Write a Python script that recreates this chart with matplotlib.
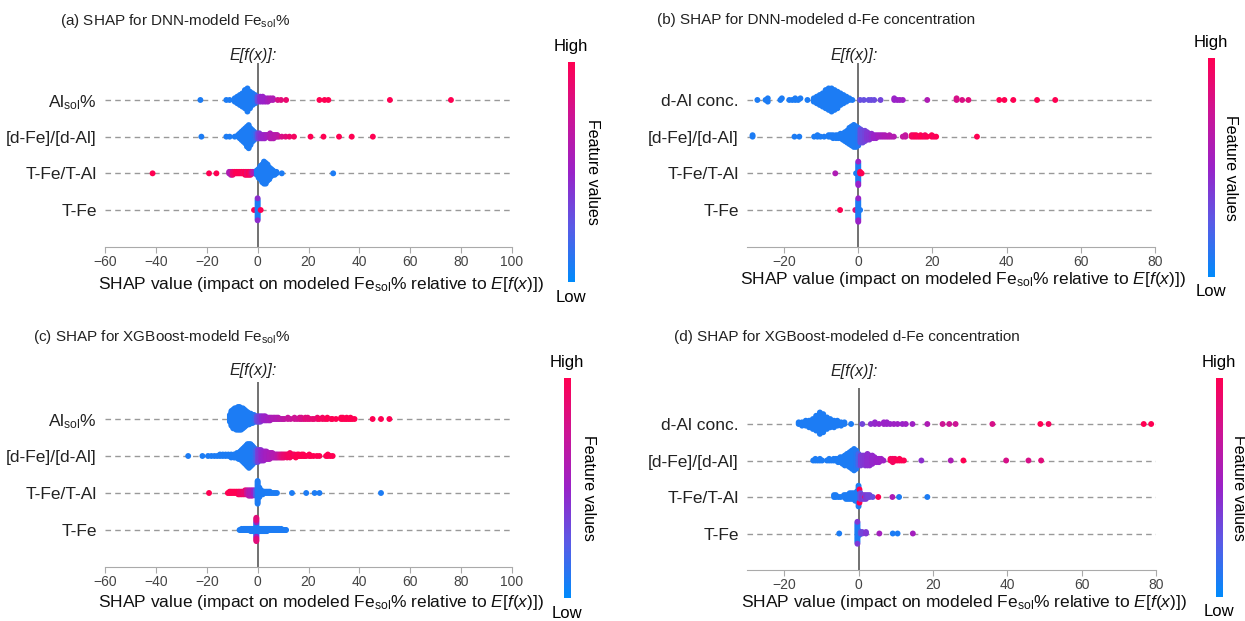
import numpy as np
import matplotlib
matplotlib.use("Agg")
import matplotlib.pyplot as plt
from matplotlib.colors import LinearSegmentedColormap
from matplotlib.colorbar import ColorbarBase

plt.rcParams['font.family'] = ['Liberation Sans', 'DejaVu Sans']
plt.rcParams['mathtext.fontset'] = 'custom'
plt.rcParams['mathtext.rm'] = 'Liberation Sans'
plt.rcParams['mathtext.it'] = 'Liberation Sans:italic'
plt.rcParams['mathtext.bf'] = 'Liberation Sans:bold'
plt.rcParams['mathtext.default'] = 'regular'

# ---- data ----
# every row: list of (shap value, number of samples at that value, feature value 0..1)
feat_fe = ["Al$_{sol}$%", "[d-Fe]/[d-Al]", "T-Fe/T-Al", "T-Fe"]
feat_dfe = ["d-Al conc.", "[d-Fe]/[d-Al]", "T-Fe/T-Al", "T-Fe"]

titles = ["(a) SHAP for DNN-modeld Fe$_{sol}$%",
          "(b) SHAP for DNN-modeled d-Fe concentration",
          "(c) SHAP for XGBoost-modeld Fe$_{sol}$%",
          "(d) SHAP for XGBoost-modeled d-Fe concentration"]

xlab = "SHAP value (impact on modeled Fe$_{sol}$% relative to $\\mathit{E[f(x)]}$)"

# (a) DNN, Fe_sol%
a_al = [(-22.5, 1, .08), (-12.3, 1, .08), (-11.0, 1, .08),
        (-9.0, 3, .08), (-8.0, 5, .08), (-7.0, 7, .08), (-6.0, 9, .08), (-5.0, 12, .08),
        (-4.0, 15, .08), (-3.0, 11, .08), (-2.0, 8, .08), (-1.0, 6, .1),
        (0.0, 4, .3), (1.0, 4, .45), (2.0, 4, .5), (3.0, 3, .5), (4.0, 3, .55), (5.0, 2, .6),
        (6.0, 2, .6), (7.9, 1, .8), (9.2, 1, .85), (11.2, 1, .9),
        (24.3, 1, 1.), (26.3, 1, 1.), (27.8, 1, 1.), (52.0, 1, 1.), (76.0, 1, 1.)]
a_dfe = [(-22.1, 1, .08), (-12.3, 1, .08), (-11.0, 1, .08), (-9.0, 1, .08),
         (-7.7, 2, .08), (-7.0, 4, .08), (-6.3, 6, .08), (-5.6, 8, .08), (-4.9, 10, .08),
         (-4.2, 13, .08), (-3.5, 15, .08), (-2.8, 11, .08), (-2.1, 8, .08), (-1.4, 6, .1),
         (-0.7, 4, .15), (0.0, 4, .3), (0.7, 4, .4), (1.4, 3, .45), (2.1, 3, .5), (2.8, 3, .5),
         (3.5, 2, .55), (4.2, 2, .55), (4.9, 4, .6), (5.6, 3, .62), (6.3, 3, .62), (7.0, 2, .65),
         (7.7, 2, .65), (8.4, 1, .7), (9.5, 1, .8), (11.0, 1, .85), (12.5, 1, .9), (14.3, 1, .95),
         (20.8, 1, 1.), (25.9, 1, 1.), (32.0, 1, 1.), (37.0, 1, 1.), (45.3, 1, 1.)]
a_tft = [(-41.3, 1, 1.), (-19.1, 1, 1.), (-16.2, 1, 1.),
         (-11.2, 2, .6), (-10.5, 3, .6), (-9.8, 3, .9), (-9.1, 2, .95), (-8.4, 2, 1.),
         (-7.7, 2, 1.), (-7.0, 2, 1.), (-6.3, 2, 1.), (-5.6, 2, .95), (-4.9, 3, 1.),
         (-4.2, 3, .9), (-3.5, 3, 1.), (-2.8, 3, .9), (-2.1, 2, .7), (-1.4, 2, .6), (-0.7, 2, .5),
         (-0.3, 4, .08), (0.4, 7, .08), (1.1, 10, .08), (1.8, 13, .08), (2.5, 16, .08),
         (3.2, 15, .08), (3.9, 12, .08), (4.6, 9, .08), (5.3, 6, .08), (6.0, 4, .08),
         (6.7, 3, .08), (7.4, 2, .08), (9.5, 1, .08), (29.7, 1, .08)]
a_tfe = [(-1.4, 1, 1.), (0.0, 14, .08), (0.0, 2, .45), (1.2, 1, 1.)]

# (b) DNN, d-Fe concentration
b_dal = [(-27.2, 1, .08), (-25.0, 1, .08), (-24.4, 2, .08), (-21.0, 1, .08), (-20.6, 1, .08),
         (-18.6, 1, .08), (-17.8, 1, .08), (-17.0, 2, .08), (-16.2, 1, .08), (-15.6, 1, .08),
         (-13.7, 1, .08), (-12.0, 3, .08), (-11.2, 5, .08), (-10.4, 7, .08), (-9.6, 9, .08),
         (-8.8, 12, .08), (-8.0, 14, .08), (-7.2, 15, .08), (-6.4, 13, .08), (-5.6, 11, .08),
         (-4.8, 8, .08), (-4.0, 6, .08), (-3.2, 4, .08), (-2.4, 2, .08), (-1.6, 1, .08),
         (0.5, 1, .3), (1.5, 1, .3), (2.8, 1, .3), (3.5, 1, .32), (4.3, 1, .32), (6.0, 1, .35),
         (9.7, 2, .5), (10.5, 1, .5), (11.2, 1, .52), (12.0, 1, .52), (18.6, 1, .6),
         (26.5, 2, .8), (28.0, 1, .82), (29.7, 1, .85),
         (38.0, 1, 1.), (39.4, 1, 1.), (41.8, 1, 1.), (48.2, 1, 1.), (53.1, 1, 1.)]
b_dfe = [(-28.5, 2, .08), (-17.2, 1, .08), (-15.9, 1, .08), (-11.9, 1, .08), (-11.0, 2, .08),
         (-10.2, 1, .08), (-9.2, 1, .08), (-8.0, 2, .08), (-7.4, 2, .08), (-6.8, 3, .08),
         (-6.0, 3, .08), (-5.4, 3, .08), (-4.8, 4, .08), (-4.2, 5, .08), (-3.6, 7, .08),
         (-3.0, 9, .08), (-2.4, 12, .08), (-1.8, 14, .08), (-1.2, 16, .08), (-0.6, 15, .08),
         (0.0, 13, .1), (0.6, 10, .3), (1.2, 9, .32), (1.8, 8, .35), (2.4, 6, .4), (3.0, 5, .42),
         (3.6, 4, .45), (4.2, 3, .5), (4.8, 3, .5), (5.4, 2, .55), (6.0, 2, .55), (6.6, 2, .58),
         (7.2, 2, .6), (7.8, 1, .6), (8.4, 2, .62), (9.0, 1, .62), (9.6, 1, .62),
         (12.0, 1, .7), (12.7, 2, .7), (14.4, 2, .95), (15.0, 2, .95), (15.6, 2, 1.),
         (16.2, 1, .95), (16.8, 2, 1.), (17.4, 1, 1.), (18.0, 2, .95), (18.6, 1, 1.),
         (19.8, 2, 1.), (20.4, 1, .95), (21.0, 1, 1.), (32.0, 1, 1.)]
b_tft = [(-6.2, 1, .6), (-0.6, 1, .08), (0.0, 14, .08), (0.0, 3, .5), (0.5, 2, 1.), (0.9, 1, 1.)]
b_tfe = [(-4.9, 1, 1.), (-0.8, 1, .85), (0.0, 14, .08), (0.0, 3, .5), (0.5, 1, .08)]

# (c) XGBoost, Fe_sol%
c_al = [(-10.9, 6, .08), (-10.3, 12, .08), (-9.6, 15, .08), (-9.0, 16, .08), (-8.4, 17, .08),
        (-7.7, 18, .08), (-7.1, 18, .08), (-6.5, 17, .08), (-5.8, 16, .08), (-5.2, 14, .08),
        (-4.6, 12, .08), (-3.9, 10, .08), (-3.3, 9, .08), (-2.7, 8, .08), (-2.0, 7, .08),
        (-1.4, 6, .1), (-0.8, 5, .15), (-0.2, 5, .3), (0.5, 5, .35), (1.1, 5, .4), (1.7, 4, .45),
        (2.4, 4, .5), (3.0, 4, .5), (3.6, 3, .52), (4.3, 3, .55), (4.9, 3, .55), (5.5, 2, .58),
        (6.2, 2, .6), (6.8, 2, .6), (7.5, 2, .62), (8.1, 2, .62), (8.7, 1, .65), (9.4, 1, .65),
        (10.0, 1, .65), (10.6, 1, .68), (11.9, 2, .72), (13.0, 1, .72), (14.5, 2, .75),
        (15.5, 1, .75), (16.5, 2, .78), (17.2, 2, .8), (18.0, 1, .8), (18.8, 2, .85),
        (19.7, 2, .85), (20.5, 1, .85), (21.5, 1, .88), (22.2, 1, .88), (23.5, 2, .9),
        (24.3, 1, .95), (25.5, 2, .95), (26.5, 1, .95), (27.4, 2, 1.), (28.9, 1, .95),
        (29.4, 1, 1.), (30.8, 1, 1.), (32.8, 2, 1.), (33.5, 2, 1.), (34.3, 1, 1.), (35.0, 2, 1.),
        (35.8, 1, 1.), (36.5, 2, 1.), (37.2, 1, 1.), (38.1, 1, 1.),
        (45.2, 1, 1.), (48.5, 1, 1.), (51.8, 1, 1.)]
c_dfe = [(-27.3, 1, .08), (-21.7, 1, .08), (-19.5, 1, .08), (-18.2, 1, .08), (-17.0, 1, .08),
         (-15.9, 1, .08), (-14.8, 2, .08), (-13.7, 2, .08), (-12.6, 2, .08), (-11.5, 2, .08),
         (-10.4, 3, .08), (-9.3, 3, .08), (-8.7, 3, .08), (-8.1, 4, .08), (-7.5, 5, .08),
         (-6.9, 6, .08), (-6.3, 8, .08), (-5.7, 10, .08), (-5.1, 12, .08), (-4.5, 14, .08),
         (-4.0, 16, .08), (-3.4, 17, .08), (-2.8, 16, .08), (-2.2, 14, .08), (-1.7, 12, .1),
         (-1.1, 10, .12), (-0.5, 9, .2), (0.1, 9, .35), (0.7, 8, .4), (1.3, 8, .45), (1.8, 7, .48),
         (2.4, 7, .5), (3.0, 6, .52), (3.5, 6, .55), (4.1, 5, .55), (4.7, 5, .58), (5.3, 4, .58),
         (5.8, 4, .6), (6.4, 3, .62), (7.0, 3, .62), (7.5, 3, .65), (8.1, 3, .68),
         (8.7, 3, .75), (9.3, 3, .8), (9.8, 3, .85), (10.4, 3, .88), (11.0, 2, .9), (11.6, 3, .92),
         (12.2, 2, .95), (12.7, 2, .95), (13.3, 2, .95), (13.9, 2, 1.), (14.5, 2, .95),
         (15.0, 1, 1.), (15.6, 2, 1.), (16.2, 2, 1.), (16.8, 1, 1.), (17.3, 2, 1.), (18.0, 2, 1.),
         (18.5, 1, 1.), (19.1, 1, 1.), (20.3, 2, 1.), (21.0, 1, 1.), (22.0, 1, 1.), (23.3, 1, 1.),
         (24.3, 1, 1.), (26.9, 1, 1.), (27.6, 2, 1.), (28.6, 1, 1.), (29.5, 1, 1.)]
c_tft = [(-19.1, 1, 1.), (-11.7, 1, 1.), (-11.0, 2, 1.), (-10.4, 2, 1.), (-9.7, 2, 1.),
         (-9.0, 2, 1.), (-8.3, 2, 1.), (-7.6, 3, 1.), (-7.0, 3, .95), (-6.3, 3, .95),
         (-5.6, 3, .9), (-4.9, 4, .9), (-4.2, 4, .75), (-3.5, 5, .65), (-2.8, 5, .6),
         (-2.1, 5, .6), (-1.4, 4, .5), (-0.7, 5, .3), (0.0, 18, .08), (0.7, 8, .08),
         (1.4, 4, .08), (2.0, 3, .08), (2.7, 2, .08), (3.4, 2, .08), (4.1, 2, .08), (4.8, 2, .08),
         (5.5, 1, .08), (6.2, 1, .08), (6.9, 1, .08), (7.6, 1, .08),
         (13.5, 1, .08), (19.1, 1, .08), (22.4, 1, .08), (24.3, 1, .08), (48.5, 1, .08)]
c_tfe = [(-7.1, 1, .08), (-6.7, 1, .08), (-6.3, 2, .08), (-5.9, 1, .08), (-5.5, 2, .08),
         (-5.1, 2, .08), (-4.7, 2, .08), (-4.3, 2, .08), (-3.9, 2, .08), (-3.5, 2, .08),
         (-3.1, 2, .08), (-2.7, 3, .08), (-2.3, 3, .08), (-1.9, 3, .08), (-1.5, 3, .08),
         (-1.1, 3, .08), (-0.5, 12, .08), (-0.5, 4, .55), (-0.5, 6, .85),
         (0.1, 3, .08), (0.5, 3, .08), (0.9, 3, .08), (1.3, 3, .08), (1.7, 3, .08), (2.1, 3, .08),
         (2.5, 3, .08), (2.9, 3, .08), (3.3, 3, .08), (3.7, 3, .08), (4.1, 2, .08), (4.5, 2, .08),
         (4.9, 2, .08), (5.3, 2, .08), (5.7, 2, .08), (6.1, 2, .08), (6.5, 2, .08), (6.9, 2, .08),
         (7.3, 2, .08), (7.7, 2, .08), (8.1, 2, .08), (8.5, 2, .08), (8.9, 1, .08), (9.3, 2, .08),
         (9.7, 1, .08), (10.1, 1, .08), (10.5, 1, .08), (10.9, 1, .08), (11.2, 1, .08)]

# (d) XGBoost, d-Fe concentration
d_dal = [(-16.1, 2, .08), (-15.2, 3, .08), (-14.2, 4, .08), (-13.3, 5, .08), (-12.3, 7, .08),
         (-11.4, 10, .08), (-10.4, 14, .08), (-9.5, 12, .08), (-8.5, 8, .08), (-7.6, 6, .08),
         (-6.6, 5, .08), (-5.7, 4, .08), (-4.7, 3, .08), (-3.8, 2, .08), (-2.0, 1, .08),
         (1.0, 1, .35), (3.3, 1, .45), (4.4, 2, .48), (5.5, 1, .5), (6.8, 2, .5), (7.6, 2, .5),
         (8.5, 1, .5), (9.5, 1, .52), (10.5, 1, .52), (11.8, 1, .5), (12.7, 1, .52),
         (14.5, 1, .52), (18.5, 1, .6), (22.6, 1, .75), (24.4, 1, .75), (26.1, 1, .75),
         (36.0, 1, .8), (48.9, 1, 1.), (51.1, 1, .95), (76.7, 1, 1.), (78.7, 1, 1.)]
d_dfe = [(-12.2, 1, .08), (-11.6, 2, .08), (-11.0, 1, .08), (-10.4, 2, .08), (-9.8, 1, .08),
         (-8.5, 1, .08), (-7.9, 2, .08), (-7.3, 1, .08), (-6.7, 2, .08), (-6.1, 2, .08),
         (-5.5, 3, .08), (-4.9, 4, .08), (-4.3, 5, .08), (-3.7, 7, .08), (-3.1, 8, .08),
         (-2.4, 10, .08), (-1.8, 12, .08), (-1.2, 14, .08), (-0.6, 12, .1), (0.0, 8, .2),
         (0.6, 7, .38), (1.2, 6, .4), (1.8, 7, .42), (2.4, 8, .45), (3.0, 7, .45), (3.7, 6, .48),
         (4.3, 4, .48), (4.9, 3, .5), (5.5, 3, .5), (6.1, 2, .52), (6.7, 1, .52),
         (8.6, 2, .95), (9.2, 3, .95), (9.8, 2, .95), (10.4, 1, 1.), (11.0, 2, 1.),
         (11.6, 1, 1.), (12.2, 1, 1.), (16.9, 1, .45), (24.8, 1, .6), (28.2, 1, 1.),
         (39.7, 1, .8), (45.7, 1, .8), (49.1, 1, .85)]
d_tft = [(-6.6, 2, .08), (-6.1, 2, .08), (-5.4, 1, .08), (-4.8, 1, .08), (-3.9, 2, .08),
         (-3.4, 3, .08), (-2.9, 3, .08), (-2.4, 4, .08), (-1.9, 4, .08), (-1.4, 4, .08),
         (-0.9, 5, .08), (-0.4, 6, .08), (0.0, 12, .08), (0.25, 6, .08), (0.25, 2, 1.),
         (0.5, 4, .3), (1.0, 3, .4), (1.5, 3, .35), (1.8, 1, 1.), (2.0, 3, .4), (2.5, 2, .35),
         (3.0, 2, .35), (3.8, 1, .3), (5.3, 1, 1.), (9.1, 1, .6), (10.9, 1, .08), (18.5, 1, .08)]
d_tfe = [(-5.2, 1, .08), (-0.3, 14, .08), (-0.3, 2, .4), (-0.1, 4, .08), (0.2, 3, .08),
         (0.6, 2, .3), (1.0, 2, .35), (2.0, 2, .4), (5.6, 1, .55), (9.2, 1, .08), (10.5, 1, .08),
         (14.6, 1, .55)]

panels = [
    dict(rows=[a_al, a_dfe, a_tft, a_tfe], names=feat_fe, xlim=(-60, 100), xticks=range(-60, 101, 20)),
    dict(rows=[b_dal, b_dfe, b_tft, b_tfe], names=feat_dfe, xlim=(-30, 80), xticks=range(-20, 81, 20)),
    dict(rows=[c_al, c_dfe, c_tft, c_tfe], names=feat_fe, xlim=(-60, 100), xticks=range(-60, 101, 20)),
    dict(rows=[d_dal, d_dfe, d_tft, d_tfe], names=feat_dfe, xlim=(-30, 80), xticks=range(-20, 81, 20)),
]

# layout in pixels of the 1245x621 canvas
W, H = 1245, 621
ax_px = [(105, 63.3, 512, 246.7), (747, 63.3, 1155, 246.7),
         (105, 382, 512, 567), (747, 387.5, 1156, 570)]
cb_px = [(571, 62, 282, 592), (1211, 58, 277, 1230),
         (567, 378, 598, 588), (1219, 378, 597, 1238)]
title_px = [(60, 21), (657, 20), (33, 337), (674, 337)]
xlab_dy = [38, 33, 35, 32]
efx_dy = [8, 8, 12, 16]

cmap = LinearSegmentedColormap.from_list(
    "shap_rb", ["#008bfb", "#5a5ae6", "#9a22c8", "#cc1495", "#ff0052"])


def swarm_offsets(vals, row_height=0.4, nbins=100):
    # same layering scheme as shap's beeswarm
    vals = np.asarray(vals, float)
    quant = np.round(nbins * (vals - vals.min()) / (vals.max() - vals.min() + 1e-8))
    inds = np.argsort(quant, kind="stable")
    ys = np.zeros(len(vals))
    layer, last = 0, None
    for i in inds:
        if quant[i] != last:
            layer = 0
        ys[i] = np.ceil(layer / 2) * ((layer % 2) * 2 - 1)
        layer += 1
        last = quant[i]
    ys *= 0.9 * (row_height / np.max(ys + 1))
    return ys


fig = plt.figure(figsize=(W / 100, H / 100), dpi=100)

for k, p in enumerate(panels):
    x0, y0, x1, y1 = ax_px[k]
    ax = fig.add_axes([x0 / W, 1 - y1 / H, (x1 - x0) / W, (y1 - y0) / H])
    n = len(p["rows"])
    for r, row in enumerate(p["rows"]):
        pos = n - 1 - r
        xs = np.repeat([v for v, c, f in row], [c for v, c, f in row])
        cs = np.repeat([f for v, c, f in row], [c for v, c, f in row])
        ys = swarm_offsets(xs)
        ax.axhline(pos, color="#999999", lw=1.0, ls=(0, (4, 3)), zorder=-1)
        ax.scatter(xs, pos + ys, c=cs, cmap=cmap, vmin=0, vmax=1, s=18,
                   linewidths=0, zorder=3)
    ax.axvline(0, color="#666666", lw=1.3, zorder=-1)
    ax.set_xlim(*p["xlim"])
    ax.set_ylim(-1, n)
    ax.set_xticks(list(p["xticks"]))
    ax.set_yticks(range(n))
    ax.set_yticklabels(p["names"][::-1], fontsize=12.5, color="#222222")
    ax.tick_params(axis="y", length=0, pad=6)
    ax.tick_params(axis="x", colors="#aaaaaa", labelcolor="#444444", labelsize=10,
                   length=4, pad=2)
    for s in ["top", "right", "left"]:
        ax.spines[s].set_visible(False)
    ax.spines["bottom"].set_color("#aaaaaa")
    ax.text(0.53, -xlab_dy[k] / (y1 - y0), xlab, transform=ax.transAxes,
            ha="center", va="center", fontsize=12.5, color="#111111")
    ax.annotate("E[f(x)]:", xy=(0, 1), xycoords=("data", "axes fraction"),
                xytext=(-3, efx_dy[k] * 0.72), textcoords="offset points",
                ha="center", va="center", fontsize=11.5, style="italic", color="#222222")

    tx, ty = title_px[k]
    fig.text(tx / W, 1 - ty / H, titles[k], fontsize=11, ha="left", va="center", color="#222222")

    cx, ct, cb_, lx = cb_px[k]
    cax = fig.add_axes([(cx - 3.5) / W, 1 - cb_ / H, 7 / W, (cb_ - ct) / H])
    cb = ColorbarBase(cax, cmap=cmap, orientation="vertical")
    cb.set_ticks([])
    cb.outline.set_visible(False)
    fig.text(cx / W, 1 - (ct - 15) / H, "High", ha="center", va="center", fontsize=12)
    fig.text(cx / W, 1 - (cb_ + 15) / H, "Low", ha="center", va="center", fontsize=12)
    fig.text(lx / W, 1 - (ct + cb_) / 2 / H, "Feature values", rotation=270,
             ha="center", va="center", fontsize=11.5)

fig.savefig("out.png", dpi=100)
